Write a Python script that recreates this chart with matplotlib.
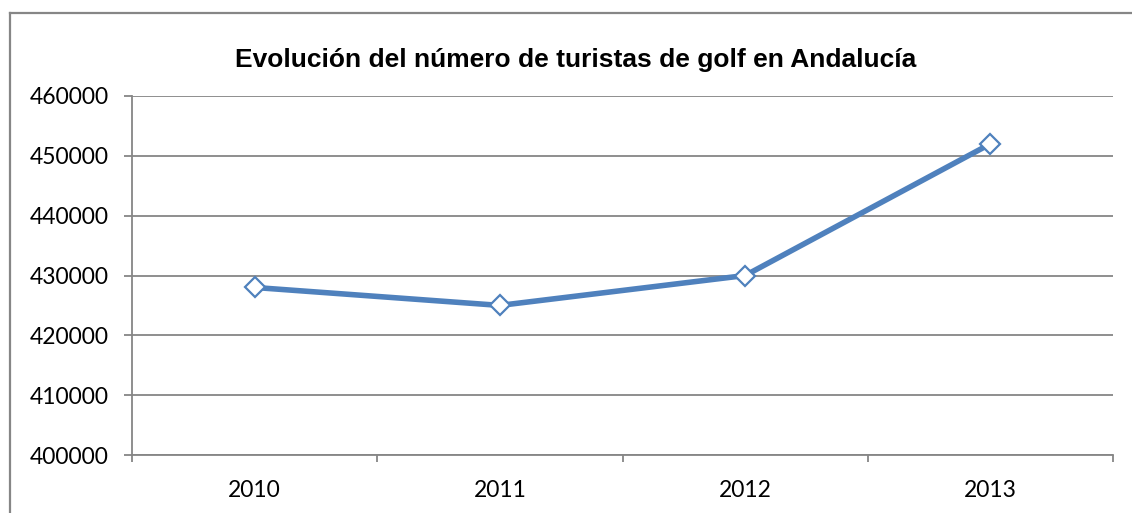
import matplotlib.pyplot as plt
from matplotlib.lines import Line2D

# Golf tourists in Andalucía per year
years = ['2010', '2011', '2012', '2013']
tourists = [428000, 425000, 430000, 452000]
yticks = [400000, 410000, 420000, 430000, 440000, 450000, 460000]

W, H = 1132, 513
fig = plt.figure(figsize=(W / 100, H / 100), dpi=100)
ax = fig.add_axes([132 / W, 1 - 455 / H, (1113 - 132) / W, (455 - 96) / H])

grid_col = '#868686'
ax.set_ylim(400000, 460000)
ax.set_yticks(yticks)
ax.set_yticklabels([str(v) for v in yticks], fontsize=16.5, fontfamily='Lato')
ax.yaxis.grid(True, color=grid_col, linewidth=1.3)
ax.set_axisbelow(True)

x = list(range(len(years)))
ax.set_xlim(-0.5, len(years) - 0.5)
ax.set_xticks(x)
ax.set_xticklabels(years, fontsize=16.5, fontfamily='Lato')
# tick marks sit between categories, as in Excel
ax.set_xticks([i - 0.5 for i in range(len(years) + 1)], minor=True)
ax.tick_params(axis='x', which='major', length=0, pad=18)
ax.tick_params(axis='x', which='minor', length=5, color=grid_col, width=1.3)
ax.tick_params(axis='y', length=6, color=grid_col, width=1.3, pad=11)

for s in ['top', 'right']:
    ax.spines[s].set_visible(False)
for s in ['left', 'bottom']:
    ax.spines[s].set_color(grid_col)
    ax.spines[s].set_linewidth(1.3)

ax.plot(x, tourists, color='#4F81BD', linewidth=4, marker='D', markersize=10,
        markerfacecolor='white', markeredgecolor='#4F81BD', markeredgewidth=1.6,
        zorder=3, clip_on=False)

fig.text(576 / W, 1 - 60 / H, 'Evolución del número de turistas de golf en Andalucía',
         ha='center', va='center', fontsize=19, fontweight='bold',
         fontfamily='Liberation Sans')

# outer chart border (only left and top are visible in the crop)
fig.add_artist(Line2D([9.5 / W, 9.5 / W], [0, 1 - 13 / H], color=grid_col, linewidth=1.6,
                      transform=fig.transFigure))
fig.add_artist(Line2D([9.5 / W, 1], [1 - 13 / H, 1 - 13 / H], color=grid_col, linewidth=1.6,
                      transform=fig.transFigure))

fig.savefig('out.png', dpi=100)
